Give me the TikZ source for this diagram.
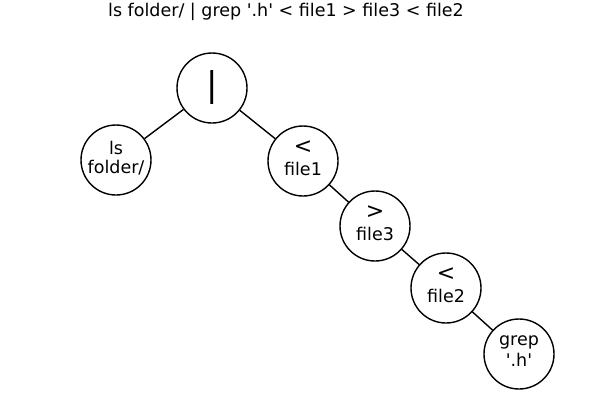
\documentclass[tikz,border=0pt]{standalone}
\usepackage{fontspec}
\setmainfont{DejaVu Sans}
\usetikzlibrary{positioning}

\newcommand{\opsym}[1]{{\fontsize{22}{20}\selectfont #1}}

\begin{document}
\begin{tikzpicture}[
		x=1pt,y=-1pt,
		on grid,
		line width=1.4pt,
		cmd/.style={
			draw,
			circle,
			align=center,
			inner sep=0pt,
			minimum size=70pt,
			text depth=6pt,
			font=\fontsize{17.5}{19}\selectfont
		}
		]
		\useasboundingbox (0,0) rectangle (600,400);
		
		\node[font=\fontsize{17.5}{19}\selectfont] (title) at (286,12)
		{ls folder/ | grep \textquotesingle.h\textquotesingle{} < file1 > file3 < file2};
		
		\node[cmd,text depth=,font=\fontsize{34}{36}\selectfont] (pipe) at (212,88)
		{|};
		
		\node[cmd,below left=72pt and 96pt of pipe] (ls)
		{ls\\folder/};
		
		\node[cmd,below right=73pt and 91pt of pipe] (in1)
		{\opsym{<}\\[3pt]file1};
		
		\node[cmd,below right=65pt and 72pt of in1] (out3)
		{\opsym{>}\\[3pt]file3};
		
		\node[cmd,below right=62pt and 71pt of out3] (in2)
		{\opsym{<}\\[3pt]file2};
		
		\node[cmd,below right=66pt and 73pt of in2] (grep)
		{grep\\[2pt]\textquotesingle.h\textquotesingle};
		
		\draw (pipe)--(ls);
		\draw (pipe)--(in1);
		\draw (in1)--(out3);
		\draw (out3)--(in2);
		\draw (in2)--(grep);
		
	\end{tikzpicture}
\end{document}
